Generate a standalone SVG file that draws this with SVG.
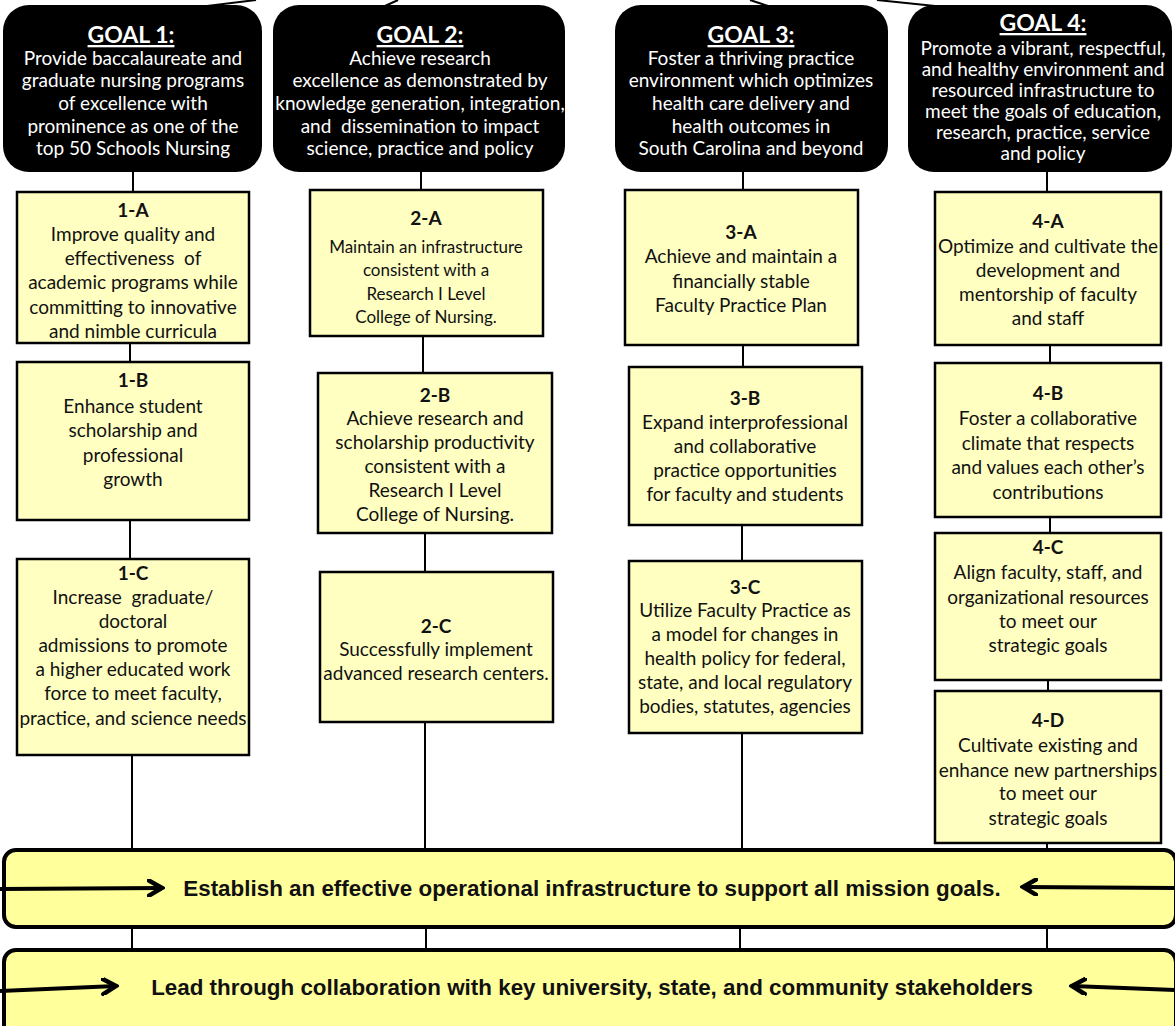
<svg xmlns="http://www.w3.org/2000/svg" width="1175" height="1026" viewBox="0 0 1175 1026">
<defs>
<marker id="ah" viewBox="0 0 18 18" refX="15" refY="9" markerWidth="18" markerHeight="18" markerUnits="userSpaceOnUse" orient="auto">
<path d="M2,1.5 L15,9 L2,16.5" fill="none" stroke="#000" stroke-width="4.5" stroke-linejoin="miter" stroke-linecap="round"/>
</marker>
</defs>
<style>
.goal{fill:#000;}
.gt{font-family:Lato,"Liberation Sans",sans-serif;font-size:19px;fill:#fff;text-anchor:middle;white-space:pre;}
.gh{font-family:Lato,"Liberation Sans",sans-serif;font-size:23px;font-weight:bold;fill:#fff;text-anchor:middle;text-decoration:underline;}
.box{fill:#FFFFC2;stroke:#000;stroke-width:2.5;}
.bt{font-family:Lato,"Liberation Sans",sans-serif;font-size:19px;fill:#111;text-anchor:middle;white-space:pre;}
.bs{font-family:Lato,"Liberation Sans",sans-serif;font-size:17px;fill:#111;text-anchor:middle;white-space:pre;}
.bh{font-family:Lato,"Liberation Sans",sans-serif;font-size:19px;font-weight:bold;fill:#111;text-anchor:middle;}
.bar{fill:#FFFF9C;stroke:#000;stroke-width:4;}
.bar-t{font-family:"Liberation Sans",Arial,sans-serif;font-size:22.4px;font-weight:bold;fill:#111;text-anchor:middle;}
.c{stroke:#000;stroke-width:2;fill:none;}
.ar{stroke:#000;stroke-width:4;fill:none;marker-end:url(#ah);}
</style>
<rect width="1175" height="1026" fill="#fff"/>

<g id="connectors">
<line class="c" x1="207" y1="6" x2="256" y2="0"/>
<line class="c" x1="385" y1="6" x2="398" y2="0"/>
<line class="c" x1="750" y1="0" x2="768" y2="6"/>
<line class="c" x1="877" y1="0" x2="935" y2="6"/>
<line class="c" x1="133" y1="172" x2="133" y2="192"/>
<line class="c" x1="130" y1="343" x2="130" y2="362"/>
<line class="c" x1="130" y1="520" x2="130" y2="559"/>
<line class="c" x1="132" y1="755" x2="132" y2="850"/>
<line class="c" x1="132" y1="927" x2="132" y2="950"/>
<line class="c" x1="421" y1="172" x2="421" y2="190"/>
<line class="c" x1="423" y1="336" x2="423" y2="373"/>
<line class="c" x1="425" y1="533" x2="425" y2="572"/>
<line class="c" x1="425" y1="722" x2="425" y2="850"/>
<line class="c" x1="426" y1="927" x2="426" y2="950"/>
<line class="c" x1="743" y1="172" x2="743" y2="190"/>
<line class="c" x1="743" y1="345" x2="743" y2="367"/>
<line class="c" x1="742" y1="525" x2="742" y2="561"/>
<line class="c" x1="742" y1="733" x2="742" y2="850"/>
<line class="c" x1="740" y1="927" x2="740" y2="950"/>
<line class="c" x1="1047" y1="172" x2="1047" y2="192"/>
<line class="c" x1="1050" y1="345" x2="1050" y2="363"/>
<line class="c" x1="1050" y1="517" x2="1050" y2="533"/>
<line class="c" x1="1048" y1="680" x2="1048" y2="691"/>
<line class="c" x1="1047" y1="843" x2="1047" y2="850"/>
<line class="c" x1="1047" y1="927" x2="1047" y2="950"/>
</g>

<g id="goal1">
<rect class="goal" x="3" y="5" width="259" height="167" rx="26"/>
<text class="gh" x="131" y="43">GOAL 1:</text>
<text class="gt" x="133" y="65">Provide baccalaureate and</text>
<text class="gt" x="133" y="87">graduate nursing programs</text>
<text class="gt" x="133" y="110">of excellence with</text>
<text class="gt" x="133" y="133">prominence as one of the</text>
<text class="gt" x="133" y="155">top 50 Schools Nursing</text>
</g>
<g id="goal2">
<rect class="goal" x="273" y="5" width="292" height="167" rx="26"/>
<text class="gh" x="420" y="43">GOAL 2:</text>
<text class="gt" x="420" y="65">Achieve research</text>
<text class="gt" x="420" y="87">excellence as demonstrated by</text>
<text class="gt" x="420" y="110">knowledge generation, integration,</text>
<text class="gt" x="420" y="133">and  dissemination to impact</text>
<text class="gt" x="420" y="155">science, practice and policy</text>
</g>
<g id="goal3">
<rect class="goal" x="615" y="5" width="273" height="167" rx="26"/>
<text class="gh" x="751" y="43">GOAL 3:</text>
<text class="gt" x="751" y="65">Foster a thriving practice</text>
<text class="gt" x="751" y="87">environment which optimizes</text>
<text class="gt" x="751" y="110">health care delivery and</text>
<text class="gt" x="751" y="133">health outcomes in</text>
<text class="gt" x="751" y="155">South Carolina and beyond</text>
</g>
<g id="goal4">
<rect class="goal" x="908" y="5" width="264" height="167" rx="26"/>
<text class="gh" x="1043" y="31">GOAL 4:</text>
<text class="gt" x="1043" y="55">Promote a vibrant, respectful,</text>
<text class="gt" x="1043" y="76">and healthy environment and</text>
<text class="gt" x="1043" y="97">resourced infrastructure to</text>
<text class="gt" x="1043" y="118">meet the goals of education,</text>
<text class="gt" x="1043" y="139">research, practice, service</text>
<text class="gt" x="1043" y="160">and policy</text>
</g>

<g id="obj-1A">
<rect class="box" x="17" y="192" width="232" height="151"/>
<text class="bh" x="133" y="217">1-A</text>
<text class="bt" x="133" y="241">Improve quality and</text>
<text class="bt" x="133" y="265">effectiveness  of</text>
<text class="bt" x="133" y="289">academic programs while</text>
<text class="bt" x="133" y="314">committing to innovative</text>
<text class="bt" x="133" y="338">and nimble curricula</text>
</g>
<g id="obj-1B">
<rect class="box" x="17" y="362" width="232" height="158"/>
<text class="bh" x="133" y="387">1-B</text>
<text class="bt" x="133" y="413">Enhance student</text>
<text class="bt" x="133" y="437">scholarship and</text>
<text class="bt" x="133" y="462">professional</text>
<text class="bt" x="133" y="486">growth</text>
</g>
<g id="obj-1C">
<rect class="box" x="17" y="559" width="232" height="196"/>
<text class="bh" x="133" y="580">1-C</text>
<text class="bt" x="133" y="604">Increase  graduate/</text>
<text class="bt" x="133" y="628">doctoral</text>
<text class="bt" x="133" y="652">admissions to promote</text>
<text class="bt" x="133" y="676">a higher educated work</text>
<text class="bt" x="133" y="700">force to meet faculty,</text>
<text class="bt" x="133" y="725">practice, and science needs</text>
</g>

<g id="obj-2A">
<rect class="box" x="310" y="190" width="233" height="146"/>
<text class="bh" x="426" y="225">2-A</text>
<text class="bs" x="426" y="253">Maintain an infrastructure</text>
<text class="bs" x="426" y="276">consistent with a</text>
<text class="bs" x="426" y="300">Research I Level</text>
<text class="bs" x="426" y="323">College of Nursing.</text>
</g>
<g id="obj-2B">
<rect class="box" x="318" y="373" width="234" height="160"/>
<text class="bh" x="435" y="402">2-B</text>
<text class="bt" x="435" y="425">Achieve research and</text>
<text class="bt" x="435" y="449">scholarship productivity</text>
<text class="bt" x="435" y="473">consistent with a</text>
<text class="bt" x="435" y="497">Research I Level</text>
<text class="bt" x="435" y="521">College of Nursing.</text>
</g>
<g id="obj-2C">
<rect class="box" x="320" y="572" width="233" height="150"/>
<text class="bh" x="436" y="633">2-C</text>
<text class="bt" x="436" y="656">Successfully implement</text>
<text class="bt" x="436" y="680">advanced research centers.</text>
</g>

<g id="obj-3A">
<rect class="box" x="625" y="190" width="233" height="155"/>
<text class="bh" x="741" y="239">3-A</text>
<text class="bt" x="741" y="263">Achieve and maintain a</text>
<text class="bt" x="741" y="288">financially stable</text>
<text class="bt" x="741" y="312">Faculty Practice Plan</text>
</g>
<g id="obj-3B">
<rect class="box" x="629" y="367" width="233" height="158"/>
<text class="bh" x="745" y="405">3-B</text>
<text class="bt" x="745" y="429">Expand interprofessional</text>
<text class="bt" x="745" y="453">and collaborative</text>
<text class="bt" x="745" y="477">practice opportunities</text>
<text class="bt" x="745" y="501">for faculty and students</text>
</g>
<g id="obj-3C">
<rect class="box" x="629" y="561" width="233" height="172"/>
<text class="bh" x="745" y="594">3-C</text>
<text class="bt" x="745" y="617">Utilize Faculty Practice as</text>
<text class="bt" x="745" y="641">a model for changes in</text>
<text class="bt" x="745" y="665">health policy for federal,</text>
<text class="bt" x="745" y="689">state, and local regulatory</text>
<text class="bt" x="745" y="713">bodies, statutes, agencies</text>
</g>

<g id="obj-4A">
<rect class="box" x="935" y="192" width="226" height="153"/>
<text class="bh" x="1048" y="228">4-A</text>
<text class="bt" x="1048" y="253">Optimize and cultivate the</text>
<text class="bt" x="1048" y="277">development and</text>
<text class="bt" x="1048" y="301">mentorship of faculty</text>
<text class="bt" x="1048" y="325">and staff</text>
</g>
<g id="obj-4B">
<rect class="box" x="935" y="363" width="226" height="154"/>
<text class="bh" x="1048" y="400">4-B</text>
<text class="bt" x="1048" y="425">Foster a collaborative</text>
<text class="bt" x="1048" y="450">climate that respects</text>
<text class="bt" x="1048" y="474">and values each other’s</text>
<text class="bt" x="1048" y="499">contributions</text>
</g>
<g id="obj-4C">
<rect class="box" x="935" y="533" width="226" height="147"/>
<text class="bh" x="1048" y="554">4-C</text>
<text class="bt" x="1048" y="579">Align faculty, staff, and</text>
<text class="bt" x="1048" y="604">organizational resources</text>
<text class="bt" x="1048" y="628">to meet our</text>
<text class="bt" x="1048" y="652">strategic goals</text>
</g>
<g id="obj-4D">
<rect class="box" x="935" y="691" width="226" height="152"/>
<text class="bh" x="1048" y="727">4-D</text>
<text class="bt" x="1048" y="752">Cultivate existing and</text>
<text class="bt" x="1048" y="777">enhance new partnerships</text>
<text class="bt" x="1048" y="800">to meet our</text>
<text class="bt" x="1048" y="825">strategic goals</text>
</g>

<g id="bar1">
<rect class="bar" x="4" y="850" width="1172" height="77" rx="12"/>
<text class="bar-t" x="592" y="896">Establish an effective operational infrastructure to support all mission goals.</text>
</g>
<g id="bar2">
<rect class="bar" x="4" y="950" width="1172" height="100" rx="12"/>
<text class="bar-t" x="592" y="995">Lead through collaboration with key university, state, and community stakeholders</text>
</g>

<g id="arrows">
<line class="ar" x1="0" y1="889" x2="162" y2="888"/>
<line class="ar" x1="1175" y1="888" x2="1023" y2="887"/>
<line class="ar" x1="0" y1="991" x2="116" y2="986"/>
<line class="ar" x1="1175" y1="990" x2="1072" y2="986"/>
</g>
</svg>
